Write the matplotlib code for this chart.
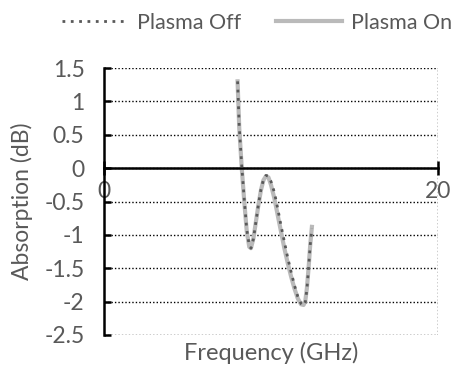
import numpy as np
import matplotlib
matplotlib.use("Agg")
import matplotlib.pyplot as plt

# frequency (GHz) and absorption (dB)
freq_on = [8.0, 8.1, 8.25, 8.4, 8.55, 8.7, 8.8, 8.95, 9.1, 9.25, 9.4, 9.55,
           9.7, 9.85, 10.0, 10.2, 10.4, 10.6, 10.8, 11.0, 11.2, 11.4, 11.6,
           11.8, 11.95, 12.05, 12.15, 12.25, 12.35, 12.45]
abs_on = [1.3, 0.6, 0.0, -0.5, -0.95, -1.18, -1.2, -1.05, -0.8, -0.55, -0.33,
          -0.18, -0.12, -0.14, -0.25, -0.45, -0.7, -0.95, -1.2, -1.42, -1.62,
          -1.8, -1.95, -2.04, -2.05, -2.0, -1.8, -1.5, -1.15, -0.88]

freq_off = [8.0, 8.1, 8.25, 8.4, 8.55, 8.7, 8.8, 8.95, 9.1, 9.25, 9.4, 9.55,
            9.7, 9.85, 10.0, 10.2, 10.4, 10.6, 10.8, 11.0, 11.2, 11.4, 11.6,
            11.8, 11.95, 12.05, 12.15, 12.25, 12.35, 12.45]
abs_off = [1.3, 0.62, 0.03, -0.47, -0.92, -1.16, -1.2, -1.06, -0.8, -0.54,
           -0.32, -0.17, -0.11, -0.12, -0.2, -0.36, -0.6, -0.86, -1.1, -1.34,
           -1.55, -1.75, -1.92, -2.03, -2.06, -2.02, -1.82, -1.5, -1.15, -0.9]

xticks = [0, 20]
yticks = [-2.5, -2, -1.5, -1, -0.5, 0, 0.5, 1, 1.5]
ytick_labels = ["-2.5", "-2", "-1.5", "-1", "-0.5", "0", "0.5", "1", "1.5"]

txt = "#595959"
plt.rcParams["font.family"] = ["Lato", "DejaVu Sans"]

fig = plt.figure(figsize=(4.56, 3.67), dpi=100)
ax = fig.add_axes([0.228, 0.0872, 0.7325, 0.7275])

ax.plot(freq_off, abs_off, color="#595959", lw=2.0, ls=(0, (1, 2.0)),
        label="Plasma Off", zorder=3)
ax.plot(freq_on, abs_on, color="#bababa", lw=3.0, label="Plasma On", zorder=2)

ax.set_xlim(0, 20)
ax.set_ylim(-2.5, 1.5)
ax.set_xticks(xticks)
ax.set_yticks(yticks)
ax.set_yticklabels(ytick_labels)

# dotted grid
for y in yticks:
    ax.axhline(y, color="black", lw=1.0, ls=(0, (1, 1.5)), zorder=1)
ax.axvline(20, color="black", lw=1.0, ls=(0, (1, 1.5)), zorder=1)

for s in ["top", "right"]:
    ax.spines[s].set_visible(False)
ax.spines["left"].set_linewidth(1.8)
ax.spines["bottom"].set_position(("data", 0))
ax.spines["bottom"].set_linewidth(1.8)

ax.tick_params(axis="y", direction="in", length=5, width=1.8, colors="black",
               labelcolor=txt, labelsize=16.5, pad=14)
ax.tick_params(axis="x", direction="inout", length=10, width=1.8, colors="black",
               labelcolor=txt, labelsize=16.5, pad=4.5)

ax.set_xlabel("Frequency (GHz)", color=txt, fontsize=17)
ax.set_ylabel("Absorption (dB)", color=txt, fontsize=16.5)
ax.xaxis.set_label_coords(0.5, -0.025)
ax.xaxis.label.set_va("top")
ax.yaxis.set_label_coords(-0.212, 0.5)

fig.legend(loc="center left", bbox_to_anchor=(0.136, 0.938), ncol=2,
           frameon=False, borderpad=0, borderaxespad=0,
           fontsize=15.5, labelcolor=txt, handlelength=3.05, columnspacing=1.6,
           handletextpad=0.45)

fig.savefig("out.png", dpi=100)
